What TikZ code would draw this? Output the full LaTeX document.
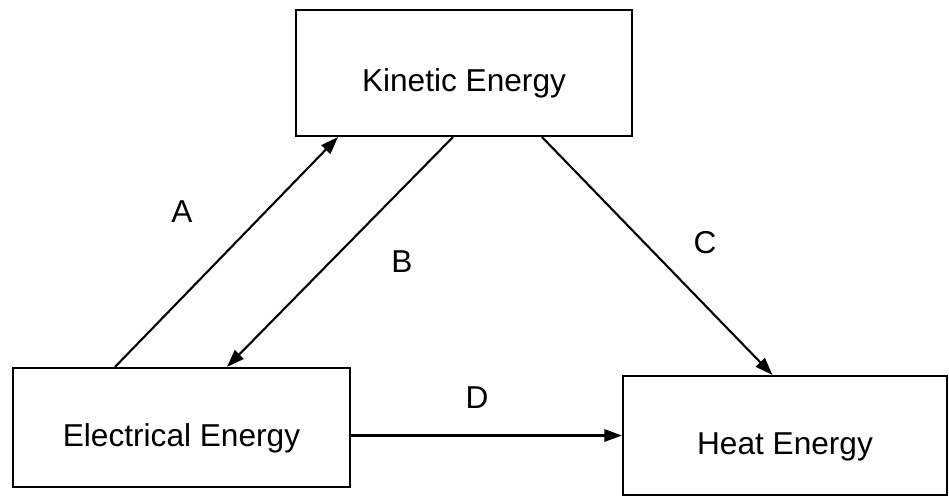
\documentclass[tikz,border=0pt]{standalone}
\usepackage{fontspec}
\setmainfont{Liberation Sans}
\usetikzlibrary{arrows.meta}
\begin{document}
\begin{tikzpicture}[line width=1.2pt,
    ebox/.style={draw, inner sep=0pt, text height=0.86cm, text depth=0.1cm,
      font=\fontsize{18}{22}\selectfont},
    lbl/.style={font=\fontsize{18}{22}\selectfont},
    flow/.style={-{Triangle[length=10pt,width=7pt]}}]
  \useasboundingbox (0,0) rectangle (18.98,10.02);
  % the three energy boxes
  \node[ebox, minimum width=6.72cm, minimum height=2.52cm] (kin) at (9.28,8.56) {Kinetic Energy};
  \node[ebox, minimum width=6.74cm, minimum height=2.38cm] (elec) at (3.63,1.47) {Electrical Energy};
  \node[ebox, minimum width=6.48cm, minimum height=2.38cm] (heat) at (15.70,1.31) {Heat Energy};
  % A: electrical up to kinetic
  \draw[flow] ([xshift=-1.33cm]elec.north) -- ([xshift=-2.52cm]kin.south);
  % B: kinetic back down to electrical
  \draw[flow] ([xshift=-0.22cm]kin.south) -- ([xshift=0.91cm]elec.north);
  % C: kinetic to heat
  \draw[flow] ([xshift=1.56cm]kin.south) -- ([xshift=-0.25cm]heat.north);
  % D: electrical straight across to heat
  \draw[flow] (elec.east |- heat.west) -- (heat.west);
  % arrow labels
  \node[lbl] (la) at (3.64,5.78) {A};
  \node[lbl] (lb) at (8.04,4.78) {B};
  \node[lbl] (lc) at (14.10,5.16) {C};
  \node[lbl] (ld) at (9.54,2.06) {D};
\end{tikzpicture}
\end{document}
